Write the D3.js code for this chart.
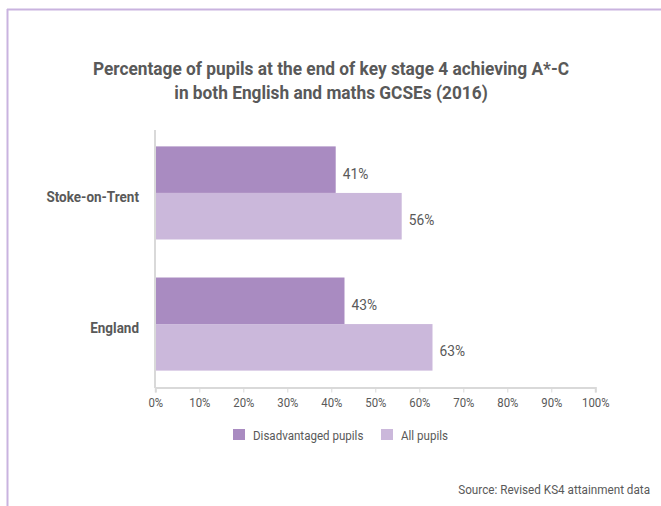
<!DOCTYPE html>
<html>
<head>
<meta charset="utf-8">
<script src="https://cdn.jsdelivr.net/npm/d3@7"></script>
<style>
  html, body { margin: 0; padding: 0; background: #fff; }
  svg { display: block; font-family: "Roboto", "Liberation Sans", sans-serif; }
</style>
</head>
<body>
<svg id="chart" width="661" height="506"></svg>
<script>
// KS4 attainment: A*-C in English and maths, 2016
const areas = ["Stoke-on-Trent", "England"];
const seriesNames = ["Disadvantaged pupils", "All pupils"];
const disadvantaged = [41, 43];
const allPupils = [56, 63];
const tickValues = [0, 10, 20, 30, 40, 50, 60, 70, 80, 90, 100];
const titleLines = [
  "Percentage of pupils at the end of key stage 4 achieving A*-C",
  "in both English and maths GCSEs (2016)"
];
const sourceText = "Source: Revised KS4 attainment data";

const colours = ["#a98bc1", "#cbb8db"];
const textGrey = "#595959";
const axisGrey = "#d9d9d9";

const svg = d3.select("#chart");

// narrow text: anchor point at (x, y), glyphs squeezed horizontally by k
function narrowText(parent, x, y, k) {
  return parent.append("text")
    .attr("transform", `translate(${x},${y}) scale(${k},1)`)
    .attr("fill", textGrey);
}

// frame lines along top and left edge
svg.append("line").attr("x1", 7).attr("x2", 661).attr("y1", 9.5).attr("y2", 9.5)
  .attr("stroke", "#c9b3df").attr("stroke-width", 2);
svg.append("line").attr("x1", 7.5).attr("x2", 7.5).attr("y1", 9).attr("y2", 506)
  .attr("stroke", "#c9b3df").attr("stroke-width", 2);

// title
titleLines.forEach((line, i) => {
  narrowText(svg, 331, 75 + i * 24, 0.91)
    .attr("text-anchor", "middle")
    .attr("font-size", 19).attr("font-weight", "bold")
    .text(line);
});

const x = d3.scaleLinear().domain([0, 100]).range([155.3, 595.3]);
const y = d3.scaleBand().domain(areas).range([130, 387]).paddingInner(0.29).paddingOuter(0.125);
const ySub = d3.scaleBand().domain(seriesNames).range([0, y.bandwidth()]);

const rows = areas.map((a, i) => ({ area: a, values: [disadvantaged[i], allPupils[i]] }));

// bars
const groups = svg.append("g").selectAll("g").data(rows).join("g")
  .attr("transform", d => `translate(0,${y(d.area)})`);

groups.selectAll("rect").data(d => d.values.map((v, j) => ({ v, s: seriesNames[j], j })))
  .join("rect")
  .attr("x", x(0))
  .attr("y", d => ySub(d.s))
  .attr("width", d => x(d.v) - x(0))
  .attr("height", ySub.bandwidth())
  .attr("fill", d => colours[d.j]);

// value labels
groups.each(function (d) {
  const g = d3.select(this);
  d.values.forEach((v, j) => {
    narrowText(g, x(v) + 7, ySub(seriesNames[j]) + ySub.bandwidth() / 2 + 4, 0.95)
      .attr("dy", "0.35em")
      .attr("font-size", 14.5)
      .text(v + "%");
  });
});

// x axis
const xAxis = svg.append("g").attr("transform", "translate(0,387.5)")
  .call(d3.axisBottom(x).tickValues(tickValues).tickFormat(d => d + "%").tickSizeOuter(0).tickSize(5).tickPadding(6));
xAxis.select(".domain").attr("stroke", axisGrey).attr("stroke-width", 2);
xAxis.selectAll(".tick line").attr("stroke", axisGrey).attr("stroke-width", 1);
xAxis.selectAll(".tick text").attr("fill", textGrey).attr("font-size", 12)
  .attr("font-family", "Roboto, sans-serif")
  .attr("transform", "scale(0.95,1)");

// y axis line and category labels
svg.append("line").attr("x1", 155).attr("x2", 155).attr("y1", 130).attr("y2", 388)
  .attr("stroke", axisGrey).attr("stroke-width", 2);
areas.forEach(a => {
  narrowText(svg, 139, y(a) + y.bandwidth() / 2 + 4, 0.9)
    .attr("dy", "0.35em")
    .attr("text-anchor", "end")
    .attr("font-size", 15).attr("font-weight", "bold")
    .text(a);
});

// legend
const legendX = [233, 381];
seriesNames.forEach((name, i) => {
  const g = svg.append("g").attr("transform", `translate(${legendX[i]},429)`);
  g.append("rect").attr("width", 12).attr("height", 11).attr("fill", colours[i]);
  narrowText(g, 20, 6, 0.89).attr("dy", "0.35em").attr("font-size", 13).text(name);
});

// source note
narrowText(svg, 650, 489, 0.9)
  .attr("dy", "0.35em")
  .attr("text-anchor", "end").attr("font-size", 13)
  .text(sourceText);
</script>
</body>
</html>
